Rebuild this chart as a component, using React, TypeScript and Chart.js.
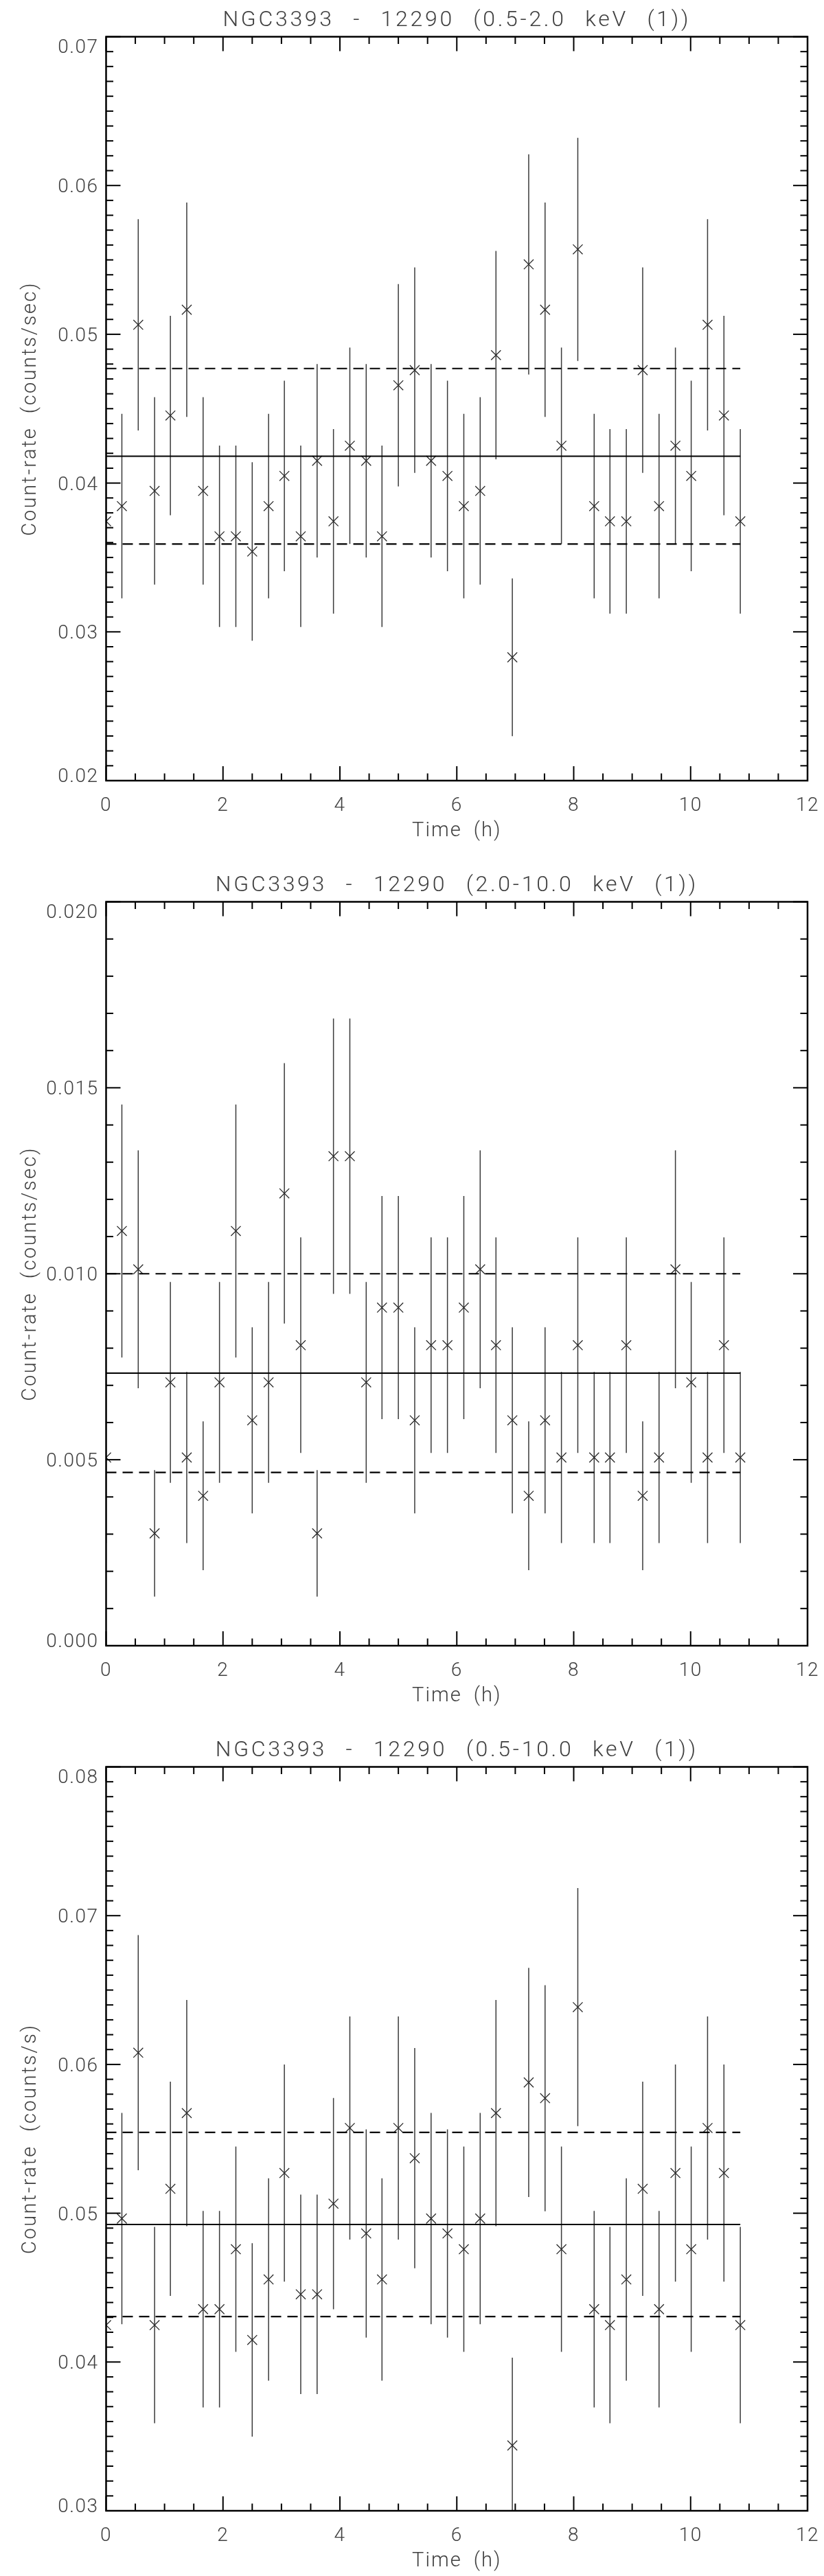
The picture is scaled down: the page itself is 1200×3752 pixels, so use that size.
import React, { useEffect, useRef } from "react";
import { Chart, registerables } from "chart.js";

Chart.register(...registerables);

// ---------- data ----------
const TIME_H = [
  0.0, 0.27, 0.55, 0.83, 1.1, 1.38, 1.66, 1.94, 2.22, 2.5, 2.78, 3.05, 3.33, 3.61, 3.89, 4.17,
  4.45, 4.72, 5.0, 5.28, 5.56, 5.84, 6.12, 6.4, 6.67, 6.95, 7.23, 7.51, 7.79, 8.07, 8.35, 8.62,
  8.9, 9.18, 9.46, 9.74, 10.01, 10.29, 10.57, 10.85,
];

const RATE_SOFT = [
  0.03743, 0.03845, 0.05064, 0.03947, 0.04454, 0.05165, 0.03947, 0.03642, 0.03642, 0.0354,
  0.03845, 0.04048, 0.03642, 0.0415, 0.03743, 0.04251, 0.0415, 0.03642, 0.04657, 0.04759,
  0.0415, 0.04048, 0.03845, 0.03947, 0.0486, 0.02829, 0.0547, 0.05165, 0.04251, 0.05571,
  0.03845, 0.03743, 0.03743, 0.04759, 0.03845, 0.04251, 0.04048, 0.05064, 0.04454, 0.03743,
];
const ERR_SOFT = [
  0.0062, 0.0062, 0.0071, 0.0063, 0.0067, 0.0072, 0.0063, 0.0061, 0.0061, 0.006, 0.0062, 0.0064,
  0.0061, 0.0065, 0.0062, 0.0066, 0.0065, 0.0061, 0.0068, 0.0069, 0.0065, 0.0064, 0.0062, 0.0063,
  0.007, 0.0053, 0.0074, 0.0072, 0.0066, 0.0075, 0.0062, 0.0062, 0.0062, 0.0069, 0.0062, 0.0066,
  0.0064, 0.0071, 0.0067, 0.0062,
];

const RATE_HARD = [
  0.00506, 0.01115, 0.01012, 0.00302, 0.00708, 0.00506, 0.00403, 0.00708, 0.01115, 0.00606,
  0.00708, 0.01216, 0.00808, 0.00302, 0.01316, 0.01316, 0.00708, 0.00909, 0.00909, 0.00606,
  0.00808, 0.00808, 0.00909, 0.01012, 0.00808, 0.00606, 0.00403, 0.00606, 0.00506, 0.00808,
  0.00506, 0.00506, 0.00808, 0.00403, 0.00506, 0.01012, 0.00708, 0.00506, 0.00808, 0.00506,
];
const ERR_HARD = [
  0.0023, 0.0034, 0.0032, 0.0017, 0.0027, 0.0023, 0.002, 0.0027, 0.0034, 0.0025, 0.0027, 0.0035,
  0.0029, 0.0017, 0.0037, 0.0037, 0.0027, 0.003, 0.003, 0.0025, 0.0029, 0.0029, 0.003, 0.0032,
  0.0029, 0.0025, 0.002, 0.0025, 0.0023, 0.0029, 0.0023, 0.0023, 0.0029, 0.002, 0.0023, 0.0032,
  0.0027, 0.0023, 0.0029, 0.0023,
];

const RATE_FULL = [
  0.04248, 0.04964, 0.06079, 0.04248, 0.05164, 0.05673, 0.04355, 0.04355, 0.04758, 0.04148,
  0.04555, 0.0527, 0.04455, 0.04455, 0.05064, 0.05573, 0.04864, 0.04555, 0.05573, 0.0537,
  0.04964, 0.04864, 0.04758, 0.04964, 0.05673, 0.03439, 0.05879, 0.05773, 0.04758, 0.06385,
  0.04355, 0.04248, 0.04555, 0.05164, 0.04355, 0.0527, 0.04758, 0.05573, 0.0527, 0.04248,
];
const ERR_FULL = [
  0.0066, 0.0071, 0.0079, 0.0066, 0.0072, 0.0076, 0.0066, 0.0066, 0.0069, 0.0065, 0.0068, 0.0073,
  0.0067, 0.0067, 0.0071, 0.0075, 0.007, 0.0068, 0.0075, 0.0074, 0.0071, 0.007, 0.0069, 0.0071,
  0.0076, 0.0059, 0.0077, 0.0076, 0.0069, 0.008, 0.0066, 0.0066, 0.0068, 0.0072, 0.0066, 0.0073,
  0.0069, 0.0075, 0.0073, 0.0066,
];

const MEAN_RATES = [0.0418, 0.00733, 0.04924];
const SIGMA_RATES = [0.0059, 0.00267, 0.00619];
const LINE_END_H = 10.85;

const TITLES = [
  "NGC3393 - 12290 (0.5-2.0 keV (1))",
  "NGC3393 - 12290 (2.0-10.0 keV (1))",
  "NGC3393 - 12290 (0.5-10.0 keV (1))",
];
const Y_TITLES = ["Count-rate (counts/sec)", "Count-rate (counts/sec)", "Count-rate (counts/s)"];
const X_TITLE = "Time (h)";

const X_TICK_VALUES = [0, 2, 4, 6, 8, 10, 12];
const X_TICK_LABELS = ["0", "2", "4", "6", "8", "10", "12"];

const Y_TICKS_SOFT = [0.02, 0.03, 0.04, 0.05, 0.06, 0.07];
const Y_LABELS_SOFT = ["0.02", "0.03", "0.04", "0.05", "0.06", "0.07"];
const Y_TICKS_HARD = [0.0, 0.005, 0.01, 0.015, 0.02];
const Y_LABELS_HARD = ["0.000", "0.005", "0.010", "0.015", "0.020"];
const Y_TICKS_FULL = [0.03, 0.04, 0.05, 0.06, 0.07, 0.08];
const Y_LABELS_FULL = ["0.03", "0.04", "0.05", "0.06", "0.07", "0.08"];

// ---------- panel setup ----------
type Panel = {
  title: string;
  yTitle: string;
  rates: number[];
  errs: number[];
  mean: number;
  sigma: number;
  yTicks: number[];
  yLabels: string[];
  yMinor: number;
};

const PANELS: Panel[] = [
  { title: TITLES[0], yTitle: Y_TITLES[0], rates: RATE_SOFT, errs: ERR_SOFT, mean: MEAN_RATES[0], sigma: SIGMA_RATES[0], yTicks: Y_TICKS_SOFT, yLabels: Y_LABELS_SOFT, yMinor: 0.001 },
  { title: TITLES[1], yTitle: Y_TITLES[1], rates: RATE_HARD, errs: ERR_HARD, mean: MEAN_RATES[1], sigma: SIGMA_RATES[1], yTicks: Y_TICKS_HARD, yLabels: Y_LABELS_HARD, yMinor: 0.001 },
  { title: TITLES[2], yTitle: Y_TITLES[2], rates: RATE_FULL, errs: ERR_FULL, mean: MEAN_RATES[2], sigma: SIGMA_RATES[2], yTicks: Y_TICKS_FULL, yLabels: Y_LABELS_FULL, yMinor: 0.001 },
];

const CANVAS_W = 1200;
const CANVAS_H = 1232;
const PANEL_TOPS = [0, 1260, 2520];
const FONT_FAMILY = 'Roboto, "DejaVu Sans", "Liberation Sans", sans-serif';
const TEXT_COLOR = "#404040";

function drawText(
  ctx: CanvasRenderingContext2D,
  text: string,
  x: number,
  y: number,
  size: number,
  align: CanvasTextAlign,
  letter: number,
  word: number,
  rotate = false
) {
  ctx.save();
  ctx.font = `300 ${size}px ${FONT_FAMILY}`;
  (ctx as any).letterSpacing = `${letter}px`;
  (ctx as any).wordSpacing = `${word}px`;
  ctx.fillStyle = TEXT_COLOR;
  ctx.textBaseline = "alphabetic";
  ctx.textAlign = align;
  ctx.translate(x, y);
  if (rotate) ctx.rotate(-Math.PI / 2);
  ctx.fillText(text, 0, 0);
  ctx.restore();
}

function makePlugin(p: Panel) {
  return {
    id: "idlAxes",
    beforeDatasetsDraw(chart: any) {
      const ctx: CanvasRenderingContext2D = chart.ctx;
      const a = chart.chartArea;
      const xs = chart.scales.x;
      const ys = chart.scales.y;
      ctx.save();
      ctx.beginPath();
      ctx.rect(a.left, a.top, a.right - a.left, a.bottom - a.top);
      ctx.clip();
      ctx.strokeStyle = "#3a3a3a";
      ctx.lineWidth = 1.5;
      p.rates.forEach((v, i) => {
        const px = xs.getPixelForValue(TIME_H[i]);
        ctx.beginPath();
        ctx.moveTo(px, ys.getPixelForValue(v - p.errs[i]));
        ctx.lineTo(px, ys.getPixelForValue(v + p.errs[i]));
        ctx.stroke();
      });
      ctx.restore();
    },
    afterDraw(chart: any) {
      const ctx: CanvasRenderingContext2D = chart.ctx;
      const a = chart.chartArea;
      const xs = chart.scales.x;
      const ys = chart.scales.y;
      ctx.save();
      ctx.strokeStyle = "#000";
      ctx.lineWidth = 2.5;
      ctx.strokeRect(a.left, a.top, a.right - a.left, a.bottom - a.top);
      ctx.lineWidth = 2;
      const seg = (x1: number, y1: number, x2: number, y2: number) => {
        ctx.beginPath();
        ctx.moveTo(x1, y1);
        ctx.lineTo(x2, y2);
        ctx.stroke();
      };
      // x ticks: minor every 0.5 h, major every 2 h
      const xMin = xs.min;
      const xMax = xs.max;
      const nx = Math.round((xMax - xMin) / 0.5);
      for (let k = 0; k <= nx; k++) {
        const px = xs.getPixelForValue(xMin + k * 0.5);
        const L = k % 4 === 0 ? 21 : 10.5;
        seg(px, a.bottom, px, a.bottom - L);
        seg(px, a.top, px, a.top + L);
      }
      // y ticks
      const yMin = ys.min;
      const yMax = ys.max;
      const ny = Math.round((yMax - yMin) / p.yMinor);
      const majorEvery = Math.round((p.yTicks[1] - p.yTicks[0]) / p.yMinor);
      for (let k = 0; k <= ny; k++) {
        const py = ys.getPixelForValue(yMin + k * p.yMinor);
        const L = k % majorEvery === 0 ? 21 : 10.5;
        seg(a.left, py, a.left + L, py);
        seg(a.right, py, a.right - L, py);
      }
      ctx.restore();

      // tick labels
      X_TICK_VALUES.forEach((v, i) => {
        drawText(ctx, X_TICK_LABELS[i], xs.getPixelForValue(v), a.bottom + 44, 28, "center", 1.5, 0);
      });
      p.yTicks.forEach((v, i) => {
        let py = ys.getPixelForValue(v);
        py = Math.min(Math.max(py, a.top + 13), a.bottom - 8);
        drawText(ctx, p.yLabels[i], a.left + 1 - 12, py + 10, 28, "right", 1.5, 0);
      });
      // titles
      const cx = (a.left + a.right) / 2;
      drawText(ctx, p.title, cx, 37.5, 32, "center", 3.7, 16);
      drawText(ctx, X_TITLE, cx, a.bottom + 80.5, 29, "center", 2, 8);
      drawText(ctx, p.yTitle, 52, (a.top + a.bottom) / 2, 29, "center", 2.5, 10, true);
    },
  };
}

function PanelChart({ p, top }: { p: Panel; top: number }) {
  const ref = useRef<HTMLCanvasElement>(null);
  useEffect(() => {
    if (!ref.current) return;
    const points = p.rates.map((v, i) => ({ x: TIME_H[i], y: v }));
    const chart = new Chart(ref.current, {
      type: "scatter",
      data: {
        datasets: [
          {
            type: "line",
            data: [
              { x: 0, y: p.mean },
              { x: LINE_END_H, y: p.mean },
            ],
            borderColor: "#000",
            borderWidth: 2,
            pointRadius: 0,
            fill: false,
          } as any,
          {
            type: "line",
            data: [
              { x: 0, y: p.mean + p.sigma },
              { x: LINE_END_H, y: p.mean + p.sigma },
            ],
            borderColor: "#000",
            borderWidth: 2.2,
            borderDash: [15, 9],
            pointRadius: 0,
            fill: false,
          } as any,
          {
            type: "line",
            data: [
              { x: 0, y: p.mean - p.sigma },
              { x: LINE_END_H, y: p.mean - p.sigma },
            ],
            borderColor: "#000",
            borderWidth: 2.2,
            borderDash: [15, 9],
            pointRadius: 0,
            fill: false,
          } as any,
          {
            data: points,
            pointStyle: "crossRot",
            pointRadius: 10,
            pointBorderWidth: 1.3,
            borderColor: "#2a2a2a",
            backgroundColor: "#2a2a2a",
            showLine: false,
            clip: 0,
          } as any,
        ],
      },
      options: {
        animation: false,
        responsive: false,
        events: [],
        layout: { padding: { left: 154.5, right: 24, top: 53.5, bottom: 95 } },
        plugins: { legend: { display: false }, tooltip: { enabled: false }, title: { display: false } },
        scales: {
          x: { type: "linear", min: 0, max: 12, display: false },
          y: { type: "linear", min: p.yTicks[0], max: p.yTicks[p.yTicks.length - 1], display: false },
        },
      },
      plugins: [makePlugin(p)],
    });
    return () => chart.destroy();
  }, [p]);
  return (
    <canvas
      ref={ref}
      width={CANVAS_W}
      height={CANVAS_H}
      style={{ position: "absolute", left: 0, top, width: CANVAS_W, height: CANVAS_H }}
    />
  );
}

export default function App() {
  useEffect(() => {
    document.body.style.margin = "0";
    document.body.style.background = "#fff";
  }, []);
  return (
    <div style={{ position: "relative", width: 1200, height: 3752, background: "#fff", overflow: "hidden" }}>
      {PANELS.map((p, i) => (
        <PanelChart key={i} p={p} top={PANEL_TOPS[i]} />
      ))}
    </div>
  );
}
